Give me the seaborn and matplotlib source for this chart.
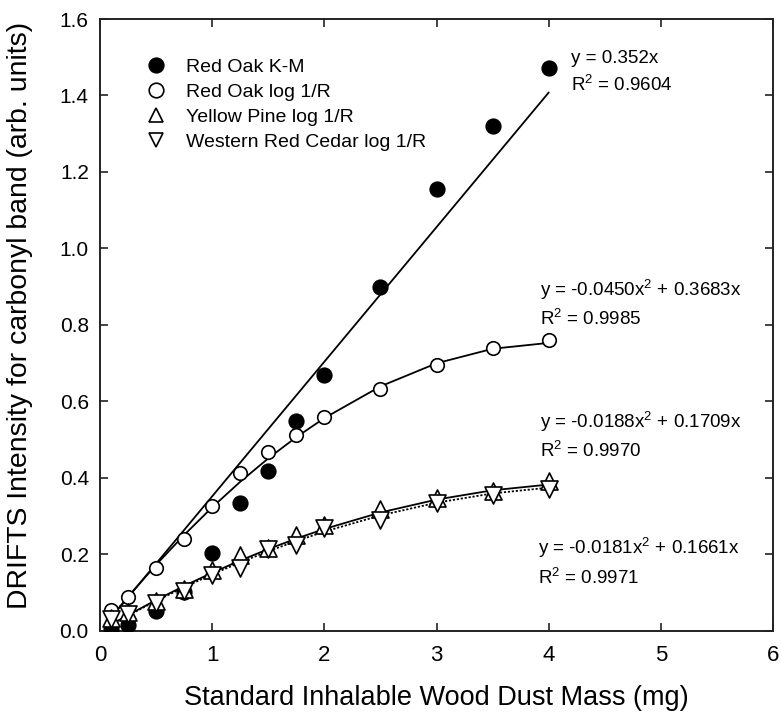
import numpy as np
import pandas as pd
import matplotlib
matplotlib.use("Agg")
import matplotlib.pyplot as plt
from matplotlib.lines import Line2D
import seaborn as sns

# dust mass (mg) for every standard
x_mass = [0.1, 0.25, 0.5, 0.75, 1.0, 1.25, 1.5, 1.75, 2.0, 2.5, 3.0, 3.5, 4.0]

# carbonyl band intensity
oak_km = [0.005, 0.015, 0.053, 0.103, 0.203, 0.334, 0.419, 0.55, 0.67, 0.90, 1.156, 1.32, 1.471]
oak_log = [0.055, 0.088, 0.165, 0.24, 0.327, 0.412, 0.468, 0.512, 0.56, 0.632, 0.695, 0.74, 0.762]
pine_log = [0.035, 0.05, 0.078, 0.11, 0.16, 0.198, 0.217, 0.25, 0.277, 0.318, 0.348, 0.366, 0.392]
cedar_log = [0.03, 0.045, 0.072, 0.105, 0.146, 0.165, 0.215, 0.225, 0.268, 0.29, 0.335, 0.356, 0.37]

series_names = ["Red Oak K-M", "Red Oak log 1/R", "Yellow Pine log 1/R", "Western Red Cedar log 1/R"]

# fit coefficients printed on the chart (a*x^2 + b*x)
fit_a = [0.0, -0.0450, -0.0188, -0.0181]
fit_b = [0.352, 0.3683, 0.1709, 0.1661]
fit_labels = [
    "y = 0.352x\nR$^2$ = 0.9604",
    "y = -0.0450x$^2$ + 0.3683x\nR$^2$ = 0.9985",
    "y = -0.0188x$^2$ + 0.1709x\nR$^2$ = 0.9970",
    "y = -0.0181x$^2$ + 0.1661x\nR$^2$ = 0.9971",
]
label_pos = [(4.2, 1.46), (3.92, 0.857), (3.92, 0.512), (3.90, 0.18)]

x_ticks = [0, 1, 2, 3, 4, 5, 6]
y_ticks = [0.0, 0.2, 0.4, 0.6, 0.8, 1.0, 1.2, 1.4, 1.6]

sns.set_style("ticks")
plt.rcParams["font.family"] = ["Liberation Sans", "DejaVu Sans"]
plt.rcParams["mathtext.fontset"] = "custom"
plt.rcParams["mathtext.rm"] = "Liberation Sans"
plt.rcParams["mathtext.it"] = "Liberation Sans"
plt.rcParams["text.color"] = "black"
plt.rcParams["axes.labelcolor"] = "black"
plt.rcParams["xtick.color"] = "black"
plt.rcParams["ytick.color"] = "black"

df = pd.DataFrame({
    "mass": x_mass * 4,
    "intensity": oak_km + oak_log + pine_log + cedar_log,
    "series": np.repeat(series_names, len(x_mass)),
})
df["fit"] = [fit_a[series_names.index(s)] * m ** 2 + fit_b[series_names.index(s)] * m
             for s, m in zip(df["series"], df["mass"])]

fig = plt.figure(figsize=(7.81, 7.17), dpi=100)
ax = fig.add_axes([0.128, 0.12, 0.862, 0.8535])

line_styles = ["-", "-", "-", (0, (1.2, 1.0))]
for name, ls in zip(series_names, line_styles):
    sub = df[df["series"] == name]
    sns.lineplot(data=sub, x="mass", y="fit", color="black", lw=1.3,
                 linestyle=ls, ax=ax, legend=False, zorder=2)

marker_style = {
    "Red Oak K-M": ("o", "black", 110),
    "Red Oak log 1/R": ("o", "white", 95),
    "Yellow Pine log 1/R": ("^", "white", 150),
    "Western Red Cedar log 1/R": ("v", "white", 150),
}
for name in series_names:
    mk, fc, size = marker_style[name]
    sub = df[df["series"] == name]
    sns.scatterplot(data=sub, x="mass", y="intensity", marker=mk, s=size,
                    color=fc, edgecolor="black", linewidth=1.2, ax=ax,
                    legend=False, zorder=3)

for txt, (tx, ty) in zip(fit_labels, label_pos):
    ax.text(tx, ty, txt, fontsize=13.5, ha="left", va="center", linespacing=1.45)

handles = [Line2D([], [], ls="none", marker=marker_style[n][0], markersize=10.5,
                  markerfacecolor=marker_style[n][1], markeredgecolor="black",
                  markeredgewidth=1.2) for n in series_names]
ax.legend(handles, series_names, loc="upper left", bbox_to_anchor=(0.055, 0.948),
          frameon=False, fontsize=14, handletextpad=0.9, labelspacing=0.38,
          handlelength=1.2, borderaxespad=0)

ax.set_xlim(0, 6)
ax.set_ylim(0, 1.6)
ax.set_xticks(x_ticks)
ax.set_yticks(y_ticks)
ax.set_yticklabels([f"{v:.1f}" for v in y_ticks])
ax.tick_params(direction="in", length=6, width=1.2, top=True, right=True,
               labeltop=False, labelright=False, color="#222222")
ax.tick_params(axis="x", labelsize=16, pad=10)
ax.tick_params(axis="y", labelsize=15, pad=8)
for sp in ax.spines.values():
    sp.set_visible(True)
    sp.set_linewidth(1.4)
    sp.set_color("#222222")

ax.set_xlabel("Standard Inhalable Wood Dust Mass (mg)", fontsize=19.5, labelpad=14)
ax.set_ylabel("DRIFTS Intensity for carbonyl band (arb. units)", fontsize=20.4, labelpad=10)
ax.yaxis.set_label_coords(-0.1, 0.515)

fig.savefig("out.png", dpi=100)
